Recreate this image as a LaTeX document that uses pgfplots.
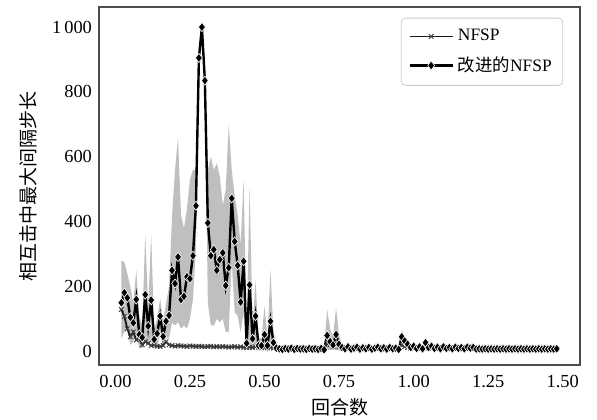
\documentclass[border=0pt]{standalone}
\usepackage{fontspec}
\setmainfont{Liberation Serif}
\newfontfamily\cjk{Noto Sans CJK SC}
\usepackage{pgfplots}
\usepackage{pgfplotstable}
\pgfplotsset{compat=1.18}
\usepgfplotslibrary{fillbetween}

% x: episodes; m: improved NFSP mean; u/l: band; n: NFSP
\pgfplotstableread{
x m u l n
0.02 150 280 40 129
0.03 181 275 60 108
0.04 165 240 70 70
0.05 105 200 20 45
0.06 88 150 30 60
0.07 160 250 60 35
0.08 52 110 10 40
0.09 43 80 10 20
0.10 175 360 30 30
0.11 78 140 20 25
0.12 158 360 30 18
0.13 37 70 10 20
0.14 55 100 15 16
0.15 109 165 50 15
0.16 46 90 15 18
0.17 93 150 40 30
0.18 111 200 40 20
0.19 250 420 90 18
0.20 209 560 80 16
0.21 291 660 90 18
0.22 160 420 70 17
0.23 170 380 80 16
0.24 230 440 70 15
0.25 224 530 100 17
0.26 295 560 160 16
0.27 449 560 320 15
0.28 905 930 870 16
0.29 1000 1010 990 15
0.30 835 860 800 14
0.31 396 560 150 15
0.32 295 600 80 16
0.33 314 560 80 14
0.34 250 580 100 15
0.35 283 540 90 14
0.36 304 450 100 15
0.37 203 500 60 14
0.38 258 700 60 13
0.39 472 560 280 14
0.40 339 480 120 15
0.41 265 420 110 13
0.42 152 330 60 14
0.43 278 530 120 13
0.44 25 60 5 12
0.45 205 510 20 13
0.46 39 80 10 12
0.47 109 220 20 14
0.48 18 40 5 12
0.49 18 40 5 11
0.50 52 140 10 12
0.51 18 40 5 11
0.52 93 250 10 12
0.53 27 60 5 10
0.54 10 20 3 11
0.55 8 12 4 10
0.56 6 10 2 9
0.57 9 13 5 11
0.58 7 11 3 10
0.59 10 14 6 9
0.60 6 10 2 11
0.61 9 13 5 10
0.62 7 11 3 9
0.63 8 12 4 11
0.64 6 10 2 10
0.65 9 13 5 9
0.66 7 11 3 11
0.67 8 12 4 10
0.68 6 10 2 9
0.69 9 13 5 10
0.70 5 9 1 9
0.71 49 130 5 25
0.72 30 70 5 20
0.73 20 45 5 15
0.74 52 135 5 25
0.75 22 50 5 14
0.76 12 20 5 10
0.77 8 13 4 11
0.78 14 20 8 9
0.79 7 11 3 12
0.80 10 14 6 10
0.81 13 18 8 9
0.82 7 11 3 11
0.83 11 15 7 10
0.84 8 12 4 12
0.85 12 16 8 9
0.86 7 11 3 11
0.87 10 14 6 10
0.88 13 17 9 9
0.89 8 12 4 11
0.90 11 15 7 10
0.91 7 11 3 12
0.92 12 16 8 9
0.93 8 12 4 11
0.94 10 14 6 10
0.95 6 10 2 9
0.96 45 65 25 20
0.97 32 45 18 15
0.98 22 32 12 12
0.99 12 18 6 10
1.00 16 22 10 9
1.01 9 13 5 11
1.02 14 19 9 10
1.03 8 12 4 9
1.04 27 38 16 12
1.05 12 17 7 10
1.06 16 21 11 9
1.07 9 13 5 11
1.08 13 17 9 10
1.09 8 12 4 9
1.10 14 18 10 11
1.11 9 13 5 10
1.12 12 16 8 9
1.13 8 12 4 11
1.14 13 17 9 10
1.15 9 13 5 9
1.16 12 16 8 11
1.17 8 12 4 10
1.18 13 17 9 9
1.19 10 14 6 10
1.20 12 16 8 9
1.21 7 10 4 8
1.22 8 11 5 9
1.23 7 10 4 8
1.24 8 11 5 9
1.25 7 10 4 8
1.26 8 11 5 9
1.27 7 10 4 8
1.28 8 11 5 9
1.29 7 10 4 8
1.30 8 11 5 9
1.31 7 10 4 8
1.32 8 11 5 9
1.33 7 10 4 8
1.34 8 11 5 9
1.35 7 10 4 8
1.36 8 11 5 9
1.37 7 10 4 8
1.38 8 11 5 9
1.39 7 10 4 8
1.40 8 11 5 9
1.41 7 10 4 8
1.42 8 11 5 9
1.43 7 10 4 8
1.44 8 11 5 9
1.45 7 10 4 8
1.46 8 11 5 9
1.47 7 10 4 8
1.48 8 11 5 9
}\datatable

\begin{document}
\begin{tikzpicture}
\begin{axis}[
  scale only axis,
  width=240.5pt, height=179pt,
  xmin=-0.055, xmax=1.558,
  ymin=-42, ymax=1062,
  xtick={0,0.25,0.5,0.75,1,1.25,1.5},
  xticklabels={0.00,0.25,0.50,0.75,1.00,1.25,1.50},
  ytick={0,200,400,600,800,1000},
  yticklabels={0,200,400,600,800,1\,000},
  major tick length=0pt,
  tick label style={font=\fontsize{9.2}{10}\selectfont},
  xticklabel style={yshift=-1.5pt},
  axis line style={draw=black!70, line width=0.8pt},
  xlabel={\cjk 回合数},
  ylabel={\cjk 相互击中最大间隔步长},
  label style={font=\fontsize{9.5}{11}\selectfont},
  xlabel style={at={(axis description cs:0.5,-0.118)}, anchor=center},
  ylabel style={at={(axis description cs:-0.1476,0.5)}, anchor=center},
  legend style={at={(0.965,0.97)}, anchor=north east,
    font=\fontsize{8.7}{10}\selectfont, draw=black!20, rounded corners=2pt,
    row sep=2.5pt, inner sep=3.5pt},
  legend cell align=left,
  legend image code/.code={
    \draw[mark repeat=2, mark phase=2, #1]
      plot coordinates {(0cm,0cm) (0.38cm,0cm) (0.76cm,0cm)};},
]
\addplot[name path=up, draw=none, forget plot] table[x=x,y=u] {\datatable};
\addplot[name path=lo, draw=none, forget plot] table[x=x,y=l] {\datatable};
\addplot[fill=black!25, draw=none, forget plot] fill between[of=up and lo];
\addplot[black!90, line width=0.9pt, mark=x,
  mark options={black!75, line width=0.5pt, scale=0.8}] table[x=x,y=n] {\datatable};
\addplot[black, line width=1.2pt, mark=diamond*,
  mark options={fill=black, draw=white, line width=0.3pt, mark size=2.3pt}]
  table[x=x,y=m] {\datatable};
\legend{NFSP, {\cjk 改进的}NFSP}
\end{axis}
\pgfresetboundingbox
\path ([shift={(-49.5pt,-27pt)}]current axis.south west)
  rectangle ([shift={(8.5pt,3.5pt)}]current axis.north east);
\end{tikzpicture}
\end{document}
